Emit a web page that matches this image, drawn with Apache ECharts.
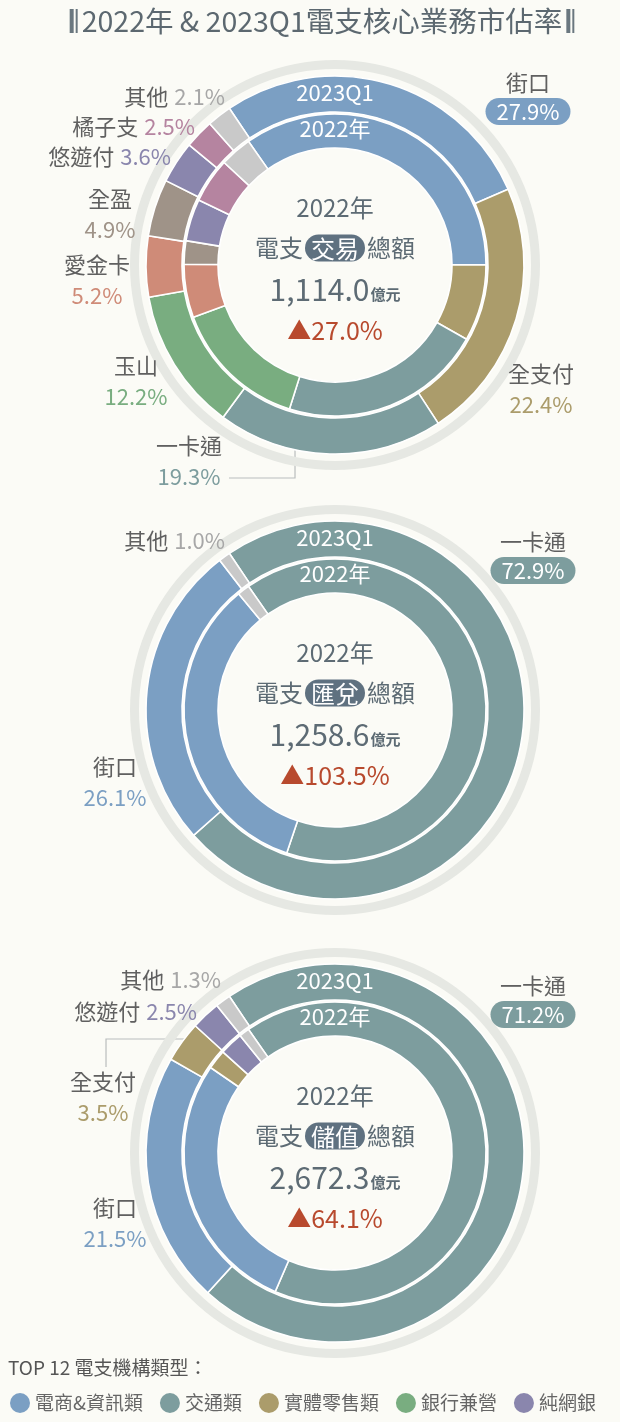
<!DOCTYPE html>
<html><head><meta charset="utf-8">
<script src="https://cdn.jsdelivr.net/npm/echarts@6/dist/echarts.min.js"></script>
<style>html,body{margin:0;padding:0;background:#fbfbf6;}#c{width:620px;height:1422px;}</style>
</head><body><div id="c"></div>
<script>
const FONT = "'Noto Sans CJK TC', 'Noto Sans', sans-serif";

// ---- data ----
const titleText = '2022年 & 2023Q1電支核心業務市佔率';
const ringLabels = ['2023Q1', '2022年'];

const tradeNames = ['街口','全支付','一卡通','玉山','愛金卡','全盈','悠遊付','橘子支','其他'];
const trade2023Q1 = [27.9, 22.4, 19.3, 12.2, 5.2, 4.9, 3.6, 2.5, 2.1];
const trade2022   = [34.7, 8.2, 21.7, 14.5, 5.7, 2.5, 4.5, 4.8, 3.4];

const remitNames = ['一卡通','街口','其他'];
const remit2023Q1 = [72.9, 26.1, 1.0];
const remit2022   = [64.9, 33.8, 1.3];

const storedNames = ['一卡通','街口','全支付','悠遊付','其他'];
const stored2023Q1 = [71.2, 21.5, 3.5, 2.5, 1.3];
const stored2022   = [66.2, 28.1, 2.1, 2.5, 1.1];

const metrics = ['交易','匯兌','儲值'];
const totals2022 = ['1,114.0','1,258.6','2,672.3'];
const growth2022 = ['27.0%','103.5%','64.1%'];
const unitText = '億元';

const legendTitle = 'TOP 12 電支機構類型：';
const categories = ['電商&資訊類','交通類','實體零售類','銀行兼營','純網銀'];

// ---- styles ----
const colors = {街口:'#7b9fc3', 全支付:'#ab9c6b', 一卡通:'#7d9d9e', 玉山:'#79ad80', 愛金卡:'#cf8b78',
  全盈:'#9f9388', 悠遊付:'#8a86ad', 橘子支:'#b584a0', 其他:'#c9c9c9'};
const valueColors = Object.assign({}, colors, {其他:'#a7a7a7'});
const catColors = ['#7b9fc3','#7d9d9e','#ab9c6b','#79ad80','#8a86ad'];
const nameColor = '#606060';
const slate = '#5d6b74';
const CX = 335;
const centersY = [265, 710, 1153];

const labelPos = [
  { 街口:{x:528,y:96,mode:'pill'}, 全支付:{x:541,y:389,mode:'stack'},
    一卡通:{x:189,y:461,mode:'stack',line:[[295,441],[295,478],[229,478]]},
    玉山:{x:136,y:381,mode:'stack'}, 愛金卡:{x:97,y:280,mode:'stack'}, 全盈:{x:110,y:214,mode:'stack'},
    悠遊付:{x:171,y:157,mode:'inline',align:'right'}, 橘子支:{x:195,y:127,mode:'inline',align:'right'},
    其他:{x:225,y:97,mode:'inline',align:'right'} },
  { 一卡通:{x:533,y:555,mode:'pill'}, 街口:{x:115,y:782,mode:'stack'},
    其他:{x:225,y:541,mode:'inline',align:'right'} },
  { 一卡通:{x:533,y:999,mode:'pill'}, 街口:{x:115,y:1223,mode:'stack'},
    全支付:{x:103,y:1097,mode:'stack',line:[[190,1039],[106,1039],[106,1067]]},
    悠遊付:{x:197,y:1012,mode:'inline',align:'right'}, 其他:{x:221,y:980,mode:'inline',align:'right'} }
];

function richFor(n) {
  return {
    n:{fontSize:22, color:nameColor, fontFamily:FONT, lineHeight:31},
    v:{fontSize:22, color:valueColors[n], fontFamily:FONT, lineHeight:31},
    s:{width:6},
    p:{fontSize:22, color:'#ffffff', fontFamily:FONT, backgroundColor:colors[n], borderRadius:16,
       padding:[3,11,2,11], lineHeight:26}
  };
}

function donut(k, names, outer, inner) {
  const cy = centersY[k];
  const pos = labelPos[k];
  const center = [CX, cy];
  const common = {type:'pie', center, clockwise:true, avoidLabelOverlap:false, silent:true,
    emphasis:{disabled:true}, itemStyle:{borderColor:'#ffffff', borderWidth:1.6}};
  return [
    {type:'pie', center, radius:[196,205], silent:true, emphasis:{disabled:true},
     data:[{value:1, name:'ring'+k}], itemStyle:{color:'#e6e8e3'}, label:{show:false}, labelLine:{show:false}},
    Object.assign({}, common, {name:'2022_'+k, radius:[117,151], startAngle:125,
      label:{show:false}, labelLine:{show:false},
      data: names.map((n,i)=>({name:n, value:inner[i], itemStyle:{color:colors[n]}}))}),
    Object.assign({}, common, {name:'2023Q1_'+k, radius:[153,189], startAngle:124,
      label:{show:true, position:'outside', fontFamily:FONT,
        formatter: p => {
          const L = pos[p.name]; const v = p.value.toFixed(1) + '%';
          if (L.mode === 'inline') return '{n|' + p.name + '}{s|}{v|' + v + '}';
          if (L.mode === 'pill') return '{n|' + p.name + '}\n{p|' + v + '}';
          return '{n|' + p.name + '}\n{v|' + v + '}';
        }},
      labelLine:{show:false},
      labelLayout: p => {
        const n = names[p.dataIndex]; const L = pos[n];
        const r = {x:L.x, y:L.y, align:L.align || 'center', verticalAlign:'middle'};
        if (L.line) r.labelLinePoints = L.line;
        return r;
      },
      data: names.map((n,i)=>{
        const L = pos[n];
        const d = {name:n, value:outer[i], itemStyle:{color:colors[n]}, label:{rich:richFor(n), lineHeight: L.mode==='pill'?36:31}};
        if (L.line) d.labelLine = {show:true, lineStyle:{color:'#b9bdbd', width:1.2}};
        return d;
      })})
  ];
}

const series = []
  .concat(donut(0, tradeNames, trade2023Q1, trade2022))
  .concat(donut(1, remitNames, remit2023Q1, remit2022))
  .concat(donut(2, storedNames, stored2023Q1, stored2022));

series.push({type:'pie', name:'legendHolder', center:[-200,-200], radius:[0,1], silent:true,
  label:{show:false}, labelLine:{show:false},
  data: categories.map((c,i)=>({name:c, value:1, itemStyle:{color:catColors[i]}}))});

const graphic = [];
graphic.push({type:'text', x:322, y:21, z:100, style:{
  text:'{a|}{g|}{b|}{s|}{t|' + titleText + '}{s|}{a|}{g|}{b|}',
  align:'center', verticalAlign:'middle',
  rich:{
    t:{fontSize:28.5, fontFamily:FONT, fill:'#5c6870'},
    a:{width:4, height:24, backgroundColor:'#6a777f'},
    g:{width:2, height:24},
    b:{width:2, height:24, backgroundColor:'#6a777f'},
    s:{width:4, height:24}
  }}});

centersY.forEach((cy, k) => {
  graphic.push({type:'text', x:CX, y:cy-172, z:100, style:{text:ringLabels[0], fill:'#ffffff', font:'22px ' + FONT, align:'center', verticalAlign:'middle'}});
  graphic.push({type:'text', x:CX, y:cy-136, z:100, style:{text:ringLabels[1], fill:'#ffffff', font:'22px ' + FONT, align:'center', verticalAlign:'middle'}});
  graphic.push({type:'text', x:CX, y:cy-57, z:100, style:{text:'2022年', fill:slate, font:'24px ' + FONT, align:'center', verticalAlign:'middle'}});
  graphic.push({type:'text', x:CX, y:cy-17, z:100, style:{
    text:'{a|電支}{s|}{p|' + metrics[k] + '}{s|}{a|總額}', align:'center', verticalAlign:'middle',
    rich:{
      a:{fontSize:24, fontFamily:FONT, fill:slate},
      s:{width:2},
      p:{fontSize:24, fontFamily:FONT, fill:'#ffffff', backgroundColor:'#5f7180', borderRadius:15, padding:[2,6,1,6]}
    }}});
  graphic.push({type:'text', x:CX, y:cy+25, z:100, style:{
    text:'{a|' + totals2022[k] + '}{u|' + unitText + '}', align:'center', verticalAlign:'middle',
    rich:{
      a:{fontSize:30, fontFamily:FONT, fill:slate},
      u:{fontSize:15, fontFamily:FONT, fill:slate, fontWeight:'bold', padding:[8,0,0,1]}
    }}});
  graphic.push({type:'text', x:CX, y:cy+65, z:100, style:{
    text:'{t|▲}{a|' + growth2022[k] + '}', align:'center', verticalAlign:'middle',
    rich:{
      t:{fontSize:24, fontFamily:FONT, fill:'#b84a2e'},
      a:{fontSize:25, fontFamily:FONT, fill:'#b84a2e'}
    }}});
});

graphic.push({type:'text', x:8, y:1368, z:100, style:{text:legendTitle, fill:'#555555', font:'19px ' + FONT, verticalAlign:'middle'}});

const chart = echarts.init(document.getElementById('c'), null, {renderer:'canvas'});
chart.setOption({
  backgroundColor:'#fbfbf6',
  animation:false,
  legend:{data:categories, left:5, top:1388, icon:'circle', itemWidth:20, itemHeight:20, itemGap:17,
    selectedMode:false, textStyle:{fontSize:19, color:'#666666', fontFamily:FONT}},
  series,
  graphic
});
</script></body></html>
